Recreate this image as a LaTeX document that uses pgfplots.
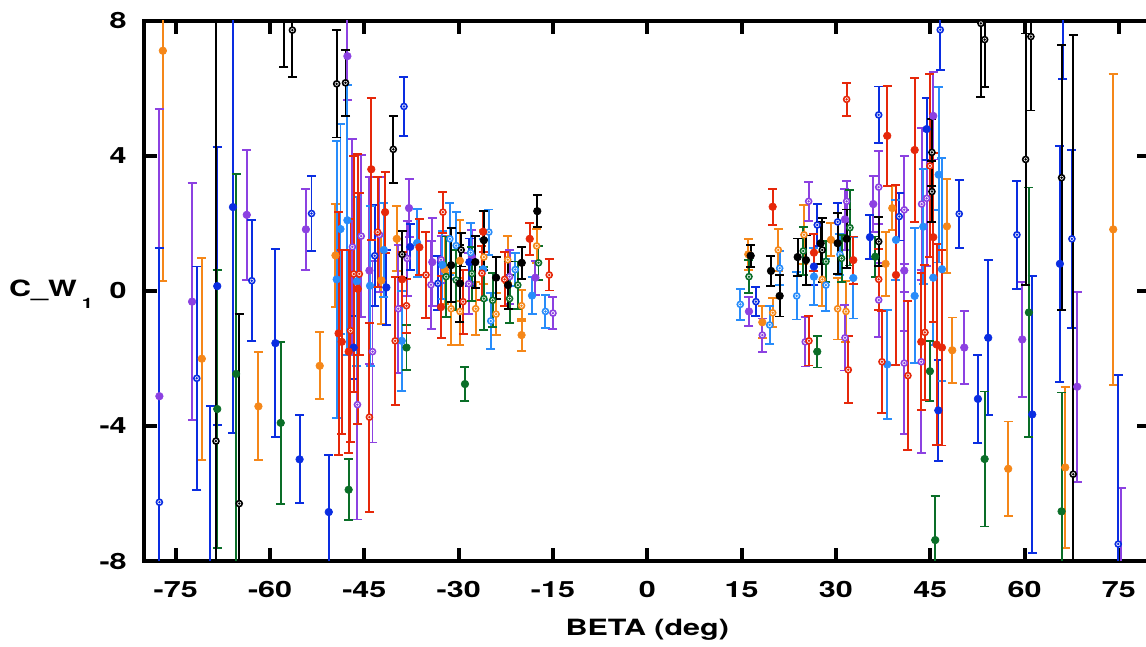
\documentclass[border=0pt]{standalone}
\usepackage{pgfplots}
\pgfplotsset{compat=1.18}
\usepackage{pgfplotstable}
\usepackage{fontspec}
\setmainfont{TeX Gyre Heros}[FakeStretch=1.36]

\definecolor{cO}{RGB}{245,135,25}
\definecolor{cP}{RGB}{140,65,225}
\definecolor{cB}{RGB}{10,45,225}
\definecolor{cL}{RGB}{40,140,250}
\definecolor{cG}{RGB}{10,110,40}
\definecolor{cR}{RGB}{230,40,10}
\definecolor{cK}{RGB}{0,0,0}

\pgfdeclareplotmark{odot}{%
  \pgfpathcircle{\pgfpointorigin}{\pgfplotmarksize}%
  \pgfusepathqfillstroke
  \pgfpathcircle{\pgfpointorigin}{0.12pt}%
  \pgfusepathqstroke
}

\pgfplotsset{
  eb/.style={error bars/y dir=both, error bars/y explicit,
    error bars/error bar style={line width=0.95pt, solid},
    error bars/error mark options={rotate=90, line width=0.95pt, mark size=2.25pt, solid}},
  fser/.style={color=#1, only marks, mark=*, mark size=1.9pt,
    mark options={fill=#1, draw=#1, line width=0.3pt, solid}, eb},
  oser/.style={color=#1, only marks, mark=odot, mark size=1.5pt,
    mark options={fill=white, draw=#1, line width=0.8pt, solid}, eb},
}

% x (deg), y (C_W1), e (symmetric error)
\pgfplotstableread{
x y e
-77.05 7.11 6.82
-70.85 -2.01 2.99
-61.85 -3.42 1.60
-52.1 -2.22 0.99
-49.6 1.05 1.53
-42.3 0.31 1.3
-39.85 1.54 0.96
-32.2 0.62 1.0
-29.8 0.89 1.2
-20.0 -1.31 0.48
16.06 1.08 0.46
18.29 -0.93 0.47
29.21 1.51 0.49
37.9 0.80 0.94
38.96 2.45 0.66
47.65 1.91 1.39
48.5 -1.76 0.97
57.4 -5.27 1.40
66.47 -5.23 2.39
74.1 1.82 4.61
}\tOF
\pgfplotstableread{
x y e
-31.2 -0.53 1.07
-29.8 -0.61 1.0
-27.3 -0.53 0.78
-26.0 1.00 0.8
-24.05 -0.69 0.62
-22.2 0.92 0.70
-20.0 -0.44 0.46
-17.6 1.33 0.5
19.94 -0.65 0.43
20.83 1.21 0.61
24.92 1.66 0.87
27.83 0.34 0.8
30.27 -0.53 0.91
31.6 -0.61 0.9
}\tOO
\pgfplotstableread{
x y e
-77.6 -3.12 8.5
-72.4 -0.32 3.51
-63.7 2.25 1.92
-54.3 1.82 1.19
-47.7 6.95 1.30
-44.2 0.60 2.76
-37.9 2.45 0.86
-34.2 0.85 1.31
-27.9 1.01 0.8
-17.8 0.39 0.5
16.17 -0.61 0.43
31.44 2.12 0.9
35.94 2.57 0.83
40.87 0.60 1.8
45.48 5.18 1.29
50.41 -1.68 1.09
59.63 -1.44 1.70
68.37 -2.84 2.81
75.4 -9.0 3.15
}\tPF
\pgfplotstableread{
x y e
-46.9 1.30 3.2
-45.5 1.62 2.4
-42.6 1.66 1.7
-46.1 -3.37 3.4
-43.7 -1.80 2.69
-39.6 -0.53 1.9
-38.2 0.96 1.1
-34.4 0.18 1.3
-32.8 0.92 0.7
-28.4 0.21 0.9
-21.9 0.42 0.8
-15.0 -0.66 0.48
18.29 -1.31 0.49
25.12 -1.51 0.73
25.66 2.65 0.58
31.44 -1.39 0.97
31.7 2.65 0.61
36.8 3.07 1.08
36.8 -0.27 1.1
40.87 2.40 1.6
40.87 -2.14 2.1
43.63 2.57 2.24
43.57 -2.10 2.71
44.43 2.74 2.0
}\tPO
\pgfplotstableread{
x y e
-69.5 -12.0 8.6
-68.4 0.14 4.11
-65.9 2.48 6.68
-59.15 -1.55 2.79
-55.3 -4.99 1.30
-50.66 -6.55 1.70
-46.7 -1.68 0.94
-41.5 0.10 1.12
-37.7 1.30 0.68
-28.3 0.85 0.7
26.5 0.72 0.55
35.41 1.59 0.66
44.43 4.79 0.91
46.28 -3.54 1.49
52.58 -3.20 1.30
54.22 -1.39 2.30
61.22 -3.66 4.1
65.62 0.80 3.5
}\tBF
\pgfplotstableread{
x y e
-77.6 -6.26 7.52
-71.65 -2.59 3.31
-62.9 0.30 1.79
-53.4 2.29 1.12
-43.35 1.04 1.5
-38.7 5.46 0.87
-33.3 0.22 0.8
17.28 -0.32 0.43
27.03 1.95 0.62
30.27 2.04 0.55
36.8 5.21 0.84
40.07 2.20 0.71
46.59 7.73 1.2
49.61 2.28 1.01
58.79 1.66 1.6
66.1 9.0 2.73
67.53 1.54 2.63
74.9 -7.5 5.0
}\tBO
\pgfplotstableread{
x y e
-49.4 0.34 4.1
-48.8 1.83 3.1
-47.7 2.09 4.0
-46.2 0.28 2.5
-44.1 0.15 2.37
-41.9 1.21 1.4
-39.05 -1.48 1.48
-36.6 1.42 1.0
-32.6 0.77 1.0
-26.1 0.64 0.9
-18.33 -0.14 0.54
26.5 0.42 0.85
32.76 0.38 1.2
38.16 -2.18 1.61
39.55 1.51 1.18
42.52 -0.15 2.0
43.89 1.90 1.7
45.48 0.39 2.0
46.34 3.44 2.6
46.86 0.64 3.3
}\tLF
\pgfplotstableread{
x y e
-31.4 1.54 1.07
-30.4 1.34 0.99
-28.1 1.13 0.87
-25.2 1.74 0.67
-24.9 -0.89 0.83
-21.0 0.63 0.5
-16.2 -0.61 0.49
14.79 -0.40 0.46
19.46 -1.01 0.56
21.05 0.67 0.5
23.76 -0.15 0.70
28.41 0.17 0.76
30.64 1.08 0.6
}\tLO
\pgfplotstableread{
x y e
-68.4 -3.50 4.11
-65.4 -2.46 5.91
-58.3 -3.91 2.39
-47.5 -5.89 0.90
-38.3 -1.68 0.67
-29.0 -2.76 0.51
27.03 -1.80 0.47
36.25 1.01 0.6
44.95 -2.38 0.89
45.79 -7.38 1.31
53.65 -4.98 2.0
60.69 -0.64 3.7
65.89 -6.53 3.52
}\tGF
\pgfplotstableread{
x y e
-32.0 0.42 1.19
-30.4 0.32 0.9
-27.9 0.51 0.8
-26.0 -0.23 0.93
-24.6 -0.28 0.8
-21.9 -0.23 0.71
-20.6 0.17 0.7
-17.3 0.83 0.5
16.17 0.42 0.49
24.81 1.18 0.7
28.41 0.87 0.6
30.9 0.96 0.7
32.23 1.87 1.12
}\tGO
\pgfplotstableread{
x y e
-49.1 -1.26 3.6
-48.6 -1.51 2.72
-47.5 -1.80 3.0
-46.05 0.06 4.0
-43.9 3.60 2.1
-41.7 2.33 1.2
-39.0 0.34 0.8
-36.25 1.29 0.83
-32.8 -0.48 0.91
-26.1 1.75 0.61
-18.7 1.54 0.48
19.94 2.49 0.53
26.5 1.13 0.55
32.76 0.91 0.7
38.16 4.59 1.48
39.55 0.47 2.66
42.52 4.17 2.12
43.57 -1.51 2.03
45.48 1.59 2.5
46.02 -1.59 2.97
46.86 -1.68 2.9
}\tRF
\pgfplotstableread{
x y e
-46.7 0.50 3.5
-45.8 0.50 2.4
-47.2 -1.18 3.3
-44.2 -3.74 2.80
-42.9 1.74 1.63
-40.1 -1.48 1.9
-38.3 -0.44 0.8
-35.2 0.47 1.28
-32.5 2.33 0.61
-29.3 -0.32 0.95
-26.3 0.52 0.8
-22.7 0.34 0.8
-15.6 0.47 0.46
25.71 -1.48 0.73
31.7 5.67 0.48
31.96 -2.34 0.99
36.8 0.34 0.9
37.32 -2.10 1.51
41.45 -2.51 2.21
44.16 -1.23 2.0
44.95 3.70 2.71
}\tRO
\pgfplotstableread{
x y e
-31.2 0.76 1.1
-29.8 0.22 1.15
-27.35 0.85 0.77
-26.0 1.50 0.87
-24.05 0.39 0.62
-22.15 0.17 0.70
-19.97 0.83 0.47
-17.5 2.36 0.47
16.44 1.04 0.33
19.67 0.59 0.44
21.05 -0.15 0.61
23.91 1.00 0.55
25.24 0.91 0.73
27.57 1.41 0.62
30.27 1.41 0.9
31.7 1.54 0.87
}\tKF
\pgfplotstableread{
x y e
-68.6 -4.45 13.5
-64.9 -6.30 5.62
-57.8 8.7 2.07
-56.45 7.72 1.40
-49.4 6.13 1.59
-48.0 6.16 0.97
-40.4 4.19 1.0
-39.0 1.08 0.70
-29.6 1.21 0.49
27.83 1.21 0.94
36.8 1.46 0.72
45.27 4.10 1.0
45.27 2.94 0.9
53.06 7.92 2.17
53.65 7.44 1.41
60.17 3.89 3.73
61.01 7.53 2.19
65.89 3.35 3.93
67.74 -5.43 13.0
}\tKO

\begin{document}
\begin{tikzpicture}
\begin{axis}[
  name=ax, at={(0,0)}, anchor=south west,
  scale only axis, width=503pt, height=270.15pt,
  xmin=-80, xmax=80, ymin=-8, ymax=8,
  xtick={-75,-60,-45,-30,-15,0,15,30,45,60,75},
  xticklabels={-75,-60,-45,-30,-15,0,15,30,45,60,75},
  ytick={-8,-4,0,4,8},
  yticklabels={-8,-4,0,4,8},
  axis line style={line width=2pt},
  every tick/.style={black, line width=2pt},
  major tick length=6.5pt, tick align=inside,
  ticklabel style={font=\fontsize{11.2}{13}\selectfont\bfseries},
  xticklabel style={inner sep=0pt, anchor=north, yshift=-10pt},
  yticklabel style={inner sep=0pt, anchor=east, xshift=-8.65pt},
  xlabel={BETA (deg)},
  xlabel style={at={(rel axis cs:0.5,0)}, anchor=base, inner sep=0pt, yshift=-37.1pt,
    font=\fontsize{11.2}{13}\selectfont\bfseries},
  ylabel={C\_W\hspace{2.5pt}\raisebox{-5.6pt}{\fontsize{7.2}{8}\selectfont 1}},
  every axis y label/.style={at={(rel axis cs:0,0.5)}, anchor=base west, inner sep=0pt,
    xshift=-67.8pt, yshift=-3pt, font=\fontsize{11.2}{13}\selectfont\bfseries},
]
\addplot[fser=cO] table[x=x, y=y, y error=e] {\tOF};
\addplot[oser=cO] table[x=x, y=y, y error=e] {\tOO};
\addplot[fser=cP] table[x=x, y=y, y error=e] {\tPF};
\addplot[oser=cP] table[x=x, y=y, y error=e] {\tPO};
\addplot[fser=cB] table[x=x, y=y, y error=e] {\tBF};
\addplot[oser=cB] table[x=x, y=y, y error=e] {\tBO};
\addplot[fser=cL] table[x=x, y=y, y error=e] {\tLF};
\addplot[oser=cL] table[x=x, y=y, y error=e] {\tLO};
\addplot[fser=cG] table[x=x, y=y, y error=e] {\tGF};
\addplot[oser=cG] table[x=x, y=y, y error=e] {\tGO};
\addplot[fser=cR] table[x=x, y=y, y error=e] {\tRF};
\addplot[oser=cR] table[x=x, y=y, y error=e] {\tRO};
\addplot[fser=cK] table[x=x, y=y, y error=e] {\tKF};
\addplot[oser=cK] table[x=x, y=y, y error=e] {\tKO};
\end{axis}
\pgfresetboundingbox
\path ([shift={(-72.15pt,-43pt)}]ax.south west) rectangle ([shift={(-2.15pt,10.35pt)}]ax.north east);
\end{tikzpicture}
\end{document}
